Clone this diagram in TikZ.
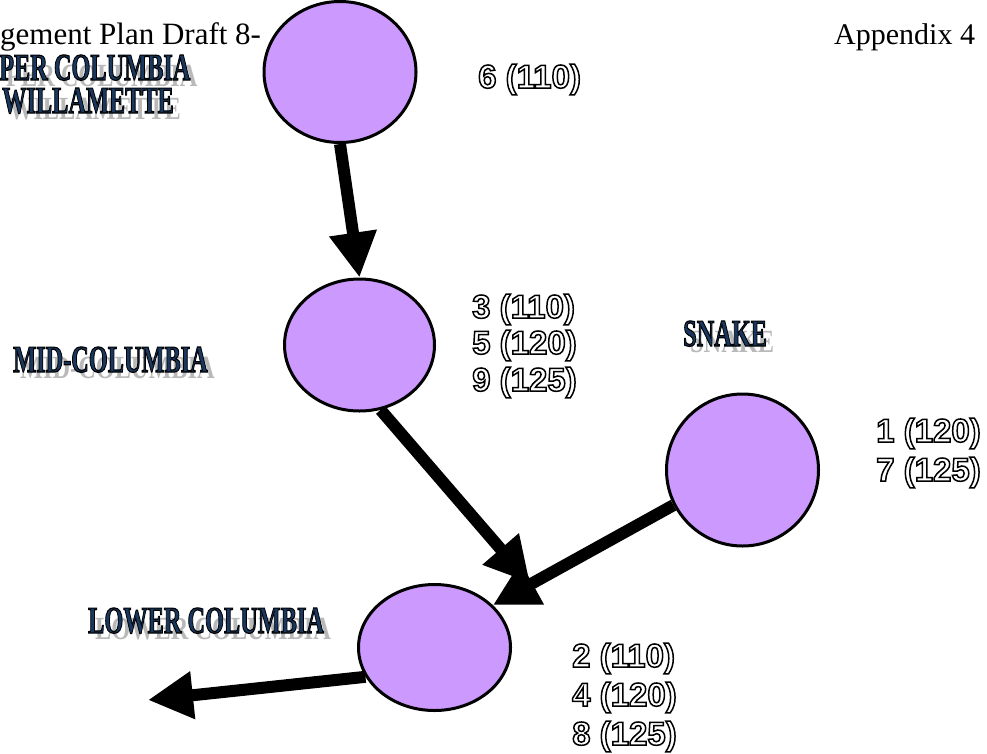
\documentclass[tikz,border=0pt]{standalone}
\usepackage{fontspec}
\setmainfont{Liberation Serif}
\newfontfamily\numfont{Liberation Sans}
\usepackage{graphicx}
\usetikzlibrary{shapes.geometric,arrows.meta}
\definecolor{basinfill}{RGB}{204,153,255}
\definecolor{artblue}{RGB}{25,55,95}
\definecolor{artgray}{RGB}{185,185,185}
\newcommand{\hollow}[1]{\special{pdf:literal direct 1 Tr 1.5 w}#1\special{pdf:literal direct 0 Tr}}
\newcommand{\inked}[1]{\special{pdf:literal direct 2 Tr 1.2 w 0 0 0 RG}#1\special{pdf:literal direct 0 Tr}}
\newcommand{\art}[1]{\scalebox{0.64}[1]{\inked{#1}}}
\newcommand{\artshade}[1]{\scalebox{0.64}[0.85]{#1}}

\begin{document}
\begin{tikzpicture}[x=1pt,y=-1pt]
  \tikzstyle{basin}=[ellipse,draw,line width=3pt,fill=basinfill,inner sep=0pt]
  \tikzstyle{flow}=[line width=12pt,-{Triangle[length=45pt,width=45pt]}]
  \tikzstyle{head}=[anchor=base west,inner sep=0pt,font=\fontsize{31}{31}\selectfont]
  \tikzstyle{region}=[anchor=base west,inner sep=0pt,text=artblue,font=\bfseries\fontsize{38}{38}\selectfont]
  \tikzstyle{shade}=[region,text=artgray]
  \tikzstyle{num}=[anchor=base west,inner sep=0pt,font=\numfont\bfseries\fontsize{33}{33}\selectfont]
  \useasboundingbox (0,0) rectangle (987,753);

  \node[head] (draft) at (0,44) {gement Plan Draft 8-};
  \node[head,font=\fontsize{30}{30}\selectfont] (appx) at (834,44) {Appendix 4};

  \node[shade] (uppershade1) at (6,86) {\artshade{PER COLUMBIA}};
  \node[region] (upperlabel1) at (-1,80) {\art{PER COLUMBIA}};
  \node[shade] (uppershade2) at (9,119) {\artshade{WILLAMETTE}};
  \node[region] (upperlabel2) at (2,113) {\art{WILLAMETTE}};
  \node[shade] (midshade) at (20,378) {\artshade{MID-COLUMBIA}};
  \node[region] (midlabel) at (13,372) {\art{MID-COLUMBIA}};
  \node[shade] (snakeshade) at (690,352) {\artshade{SNAKE}};
  \node[region] (snakelabel) at (683,346) {\art{SNAKE}};
  \node[shade] (lowershade) at (95,639) {\artshade{LOWER COLUMBIA}};
  \node[region] (lowerlabel) at (88,633) {\art{LOWER COLUMBIA}};

  \node[basin,minimum width=152pt,minimum height=141pt] (upper) at (340,72) {};
  \node[basin,minimum width=150pt,minimum height=132pt] (mid) at (359.5,345) {};
  \node[basin,minimum width=152pt,minimum height=152pt] (snake) at (742.5,470) {};
  \node[basin,minimum width=152pt,minimum height=126pt] (lower) at (434.5,647.5) {};

  \coordinate (confl) at (530,583);
  \coordinate (outlet) at (148,700);
  \draw[flow] (upper.south) -- (mid.north);
  \draw[flow] (mid.-72) -- (confl);
  \draw[flow] (snake.207) -- (lower.36);
  \draw[flow] (lower.203) -- (outlet);

  \node[num] (upnum) at (478,88) {\hollow{6 (110)}};
  \node[num] (midnum1) at (472,318) {\hollow{3 (110)}};
  \node[num] (midnum2) at (472,354) {\hollow{5 (120)}};
  \node[num] (midnum3) at (472,391) {\hollow{9 (125)}};
  \node[num] (snakenum1) at (876,442) {\hollow{1 (120)}};
  \node[num] (snakenum2) at (876,481) {\hollow{7 (125)}};
  \node[num] (lowernum1) at (572,667) {\hollow{2 (110)}};
  \node[num] (lowernum2) at (572,706) {\hollow{4 (120)}};
  \node[num] (lowernum3) at (572,745) {\hollow{8 (125)}};
\end{tikzpicture}
\end{document}
